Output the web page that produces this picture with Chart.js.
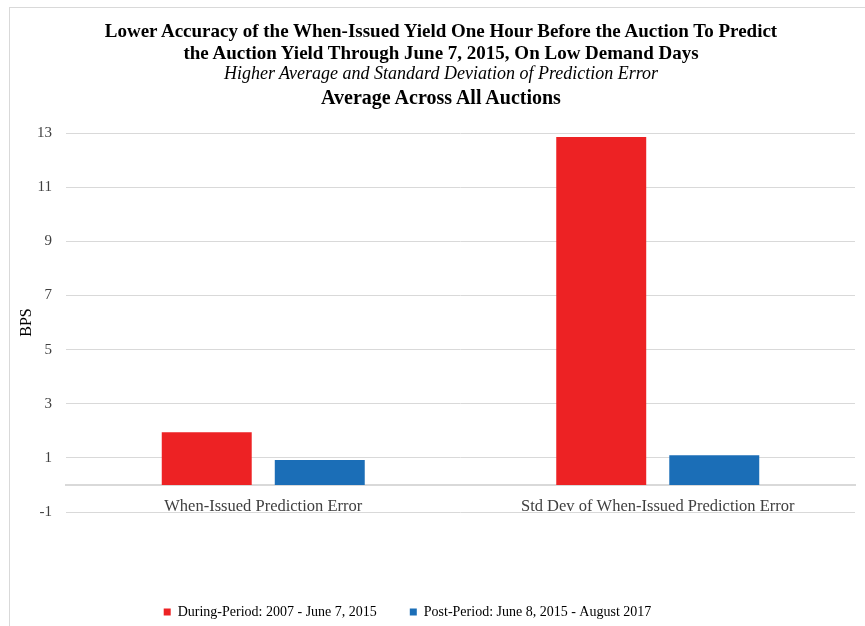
<!DOCTYPE html>
<html>
<head>
<meta charset="utf-8">
<script src="https://cdn.jsdelivr.net/npm/chart.js@4.4.1/dist/chart.umd.min.js"></script>
<style>
  html, body { margin: 0; padding: 0; background: #fff; }
  #wrap { position: relative; width: 865px; height: 626px; overflow: hidden; }
  #frame { position: absolute; left: 9px; top: 7px; width: 880px; height: 640px; border: 1px solid #d9d9d9; }
  #chart { position: absolute; left: 0; top: 0; }
  .t { position: absolute; left: 9px; width: 864px; text-align: center; white-space: nowrap;
       font-family: "Liberation Serif", serif; color: #000; line-height: 24px; }
  .b { font-weight: bold; font-size: 19px; }
  .i { font-style: italic; font-size: 18px; }
</style>
</head>
<body>
<div id="wrap">
  <div id="frame"></div>
  <canvas id="chart" width="865" height="626"></canvas>
  <div class="t b" style="top:19px">Lower Accuracy of the When-Issued Yield One Hour Before the Auction To Predict</div>
  <div class="t b" style="top:41px">the Auction Yield Through June 7, 2015, On Low Demand Days</div>
  <div class="t i" style="top:61px">Higher Average and Standard Deviation of Prediction Error</div>
  <div class="t b" style="top:85px; font-size:20px">Average Across All Auctions</div>
</div>
<script>
// values
const categories = ['When-Issued Prediction Error', 'Std Dev of When-Issued Prediction Error'];
const seriesNames = ['During-Period: 2007 - June 7, 2015', 'Post-Period: June 8, 2015 - August 2017'];
const duringValues = [1.95, 12.85];
const postValues = [0.92, 1.1];
const yTicks = [-1, 1, 3, 5, 7, 9, 11, 13];

const RED = 'rgb(237, 34, 36)';
const BLUE = 'rgb(27, 110, 183)';
const GRID = '#d9d9d9';
const SERIF = '"Liberation Serif", serif';

// push the legend down to the bottom edge, leaving the chart area where it is
const legendGap = {
    id: 'legendGap',
    beforeInit(chart) {
        const fit = chart.legend.fit;
        chart.legend.fit = function () {
            fit.bind(chart.legend)();
            this.height = 114;
        };
    },
    afterLayout(chart) {
        const lg = chart.legend;
        lg.top += 60;
        lg.bottom += 60;
        lg.left -= 20;
        lg.right -= 20;
    }
};

new Chart(document.getElementById('chart'), {
    type: 'bar',
    data: {
        labels: categories,
        datasets: [{
            label: seriesNames[0],
            data: duringValues,
            backgroundColor: RED
        }, {
            label: seriesNames[1],
            data: postValues,
            backgroundColor: BLUE
        }]
    },
    options: {
        responsive: false,
        animation: false,
        layout: { padding: { top: 133, right: 10, bottom: 0, left: 0 } },
        datasets: {
            bar: { categoryPercentage: 0.573, barPercentage: 0.796 }
        },
        plugins: {
            legend: {
                position: 'bottom',
                labels: {
                    boxWidth: 7,
                    boxHeight: 7,
                    padding: 33,
                    color: '#000',
                    font: { family: SERIF, size: 14 }
                }
            },
            tooltip: { enabled: false }
        },
        scales: {
            x: {
                position: { y: 0 },
                grid: { display: false },
                border: { display: true, color: GRID, width: 2 },
                ticks: {
                    padding: 4,
                    color: '#404040',
                    maxRotation: 0,
                    font: { family: SERIF, size: 16.5 }
                }
            },
            y: {
                min: -1,
                max: 13,
                afterBuildTicks: (scale) => {
                    scale.ticks = yTicks.map(v => ({ value: v }));
                },
                afterFit: (scale) => { scale.width = 66; },
                grid: { color: GRID, lineWidth: 1, drawTicks: false },
                border: { display: false },
                ticks: {
                    padding: 14,
                    color: '#404040',
                    font: { family: SERIF, size: 15 }
                },
                title: {
                    display: true,
                    text: 'BPS',
                    color: '#000',
                    padding: { top: 17, bottom: 0 },
                    font: { family: SERIF, size: 16 }
                }
            }
        }
    },
    plugins: [legendGap]
});
</script>
</body>
</html>
